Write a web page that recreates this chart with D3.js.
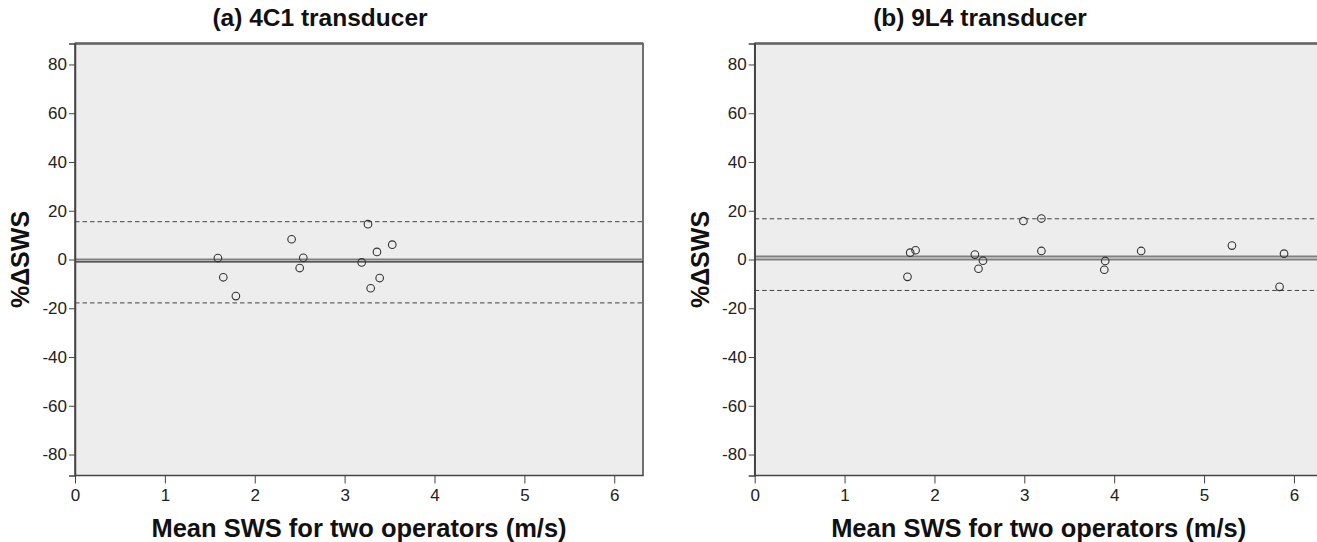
<!DOCTYPE html>
<html>
<head>
<meta charset="utf-8">
<script src="https://cdn.jsdelivr.net/npm/d3@7"></script>
<style>
  body { margin: 0; background: #fff; }
  text { font-family: "Liberation Sans", Arial, sans-serif; }
</style>
</head>
<body>
<div id="viz"></div>
<script>
// (a) 4C1 transducer
const meanA = [1.59, 1.65, 1.79, 2.41, 2.54, 2.50, 3.26, 3.53, 3.36, 3.19, 3.39, 3.29]
const diffA = [0.6, -7.3, -15.0, 8.3, 0.7, -3.5, 14.5, 6.1, 3.1, -1.2, -7.6, -11.8]
const linesA = { mean: -1.0, upper: 15.5, lower: -17.8 }

// (b) 9L4 transducer
const meanB = [1.73, 1.79, 1.70, 2.45, 2.54, 2.49, 2.99, 3.19, 3.19, 3.90, 3.89, 4.30, 5.31, 5.89, 5.84]
const diffB = [2.8, 3.8, -7.1, 2.0, -0.5, -3.8, 15.8, 16.8, 3.5, -0.6, -4.2, 3.5, 5.7, 2.4, -11.2]
const linesB = { mean: 1.2, upper: 16.7, lower: -12.7 }

const xTicks = [0, 1, 2, 3, 4, 5, 6]
const yTicks = [-80, -60, -40, -20, 0, 20, 40, 60, 80]
const titles = ["(a) 4C1 transducer", "(b) 9L4 transducer"]
const xLabel = "Mean SWS for two operators (m/s)"
const yLabel = "%ΔSWS"

const width = 1317
const height = 542

const svg = d3.select("#viz").append("svg")
    .attr("width", width)
    .attr("height", height)

const plotTop = 43.5, plotBottom = 475.5
const panels = [
    { left: 75, title: titles[0], titleX: 320, xs: meanA, ys: diffA, lines: linesA, meanColor: "#222", meanWidth: 1.3 },
    { left: 754.7, title: titles[1], titleX: 980, xs: meanB, ys: diffB, lines: linesB, meanColor: "#808080", meanWidth: 2 }
]

panels.forEach(p => {
    const x = d3.scaleLinear().domain([0, 6.32]).range([p.left, p.left + 568])
    const y = d3.scaleLinear().domain([-88.6, 88.6]).range([plotBottom, plotTop])
    const g = svg.append("g")

    // plot background
    g.append("rect")
        .attr("x", x(0)).attr("y", plotTop)
        .attr("width", x(6.32) - x(0)).attr("height", plotBottom - plotTop)
        .attr("fill", "#ecedec")
        .attr("stroke", "#444").attr("stroke-width", 1.5)
    g.append("line")
        .attr("x1", x(0)).attr("x2", x(6.32))
        .attr("y1", plotTop).attr("y2", plotTop)
        .attr("stroke", "#666").attr("stroke-width", 2.5)

    // limits of agreement
    ;[p.lines.upper, p.lines.lower].forEach(v => {
        g.append("line")
            .attr("x1", x(0)).attr("x2", x(6.32))
            .attr("y1", y(v)).attr("y2", y(v))
            .attr("stroke", "#444").attr("stroke-width", 1)
            .attr("stroke-dasharray", "4.5,3")
    })
    // zero reference and mean difference
    g.append("line")
        .attr("x1", x(0)).attr("x2", x(6.32))
        .attr("y1", y(0)).attr("y2", y(0))
        .attr("stroke", "#808080").attr("stroke-width", 2)
    g.append("line")
        .attr("x1", x(0)).attr("x2", x(6.32))
        .attr("y1", y(p.lines.mean)).attr("y2", y(p.lines.mean))
        .attr("stroke", p.meanColor).attr("stroke-width", p.meanWidth)

    // points
    g.selectAll("circle")
        .data(p.xs.map((v, i) => [v, p.ys[i]]))
        .enter()
        .append("circle")
        .attr("cx", d => x(d[0]))
        .attr("cy", d => y(d[1]))
        .attr("r", 3.8)
        .attr("fill", "none")
        .attr("stroke", "#333")
        .attr("stroke-width", 1.1)

    // axes
    const yAxis = g.append("g")
        .attr("transform", `translate(${x(0)},0)`)
        .call(d3.axisLeft(y).tickValues(yTicks).tickFormat(d => String(d)).tickSize(6).tickPadding(2))
    yAxis.select(".domain").attr("stroke", "#444").attr("stroke-width", 1.5)
    yAxis.selectAll(".tick line").attr("stroke", "#444")
    yAxis.selectAll("text").attr("font-size", 17).attr("fill", "#222")
        .style("font-family", "Liberation Sans, Arial, sans-serif")

    const xAxis = g.append("g")
        .attr("transform", `translate(0,${plotBottom})`)
        .call(d3.axisBottom(x).tickValues(xTicks).tickFormat(d => String(d)).tickSize(8).tickPadding(5))
    xAxis.select(".domain").remove()
    xAxis.selectAll(".tick line").attr("stroke", "#444")
    xAxis.selectAll("text").attr("font-size", 17).attr("fill", "#222")
        .style("font-family", "Liberation Sans, Arial, sans-serif")

    // labels
    g.append("text")
        .attr("x", p.titleX).attr("y", 26)
        .attr("text-anchor", "middle")
        .attr("font-size", 24.5).attr("font-weight", "bold").attr("fill", "#111")
        .text(p.title)

    g.append("text")
        .attr("x", (x(0) + x(6.32)) / 2).attr("y", 537)
        .attr("text-anchor", "middle")
        .attr("font-size", 25.5).attr("font-weight", "bold").attr("fill", "#111")
        .text(xLabel)

    g.append("text")
        .attr("transform", `translate(${x(0) - 55},${(plotTop + plotBottom) / 2}) rotate(-90)`)
        .attr("text-anchor", "middle")
        .attr("dominant-baseline", "central")
        .attr("font-size", 25).attr("font-weight", "bold").attr("fill", "#111")
        .text(yLabel)
})
</script>
</body>
</html>
